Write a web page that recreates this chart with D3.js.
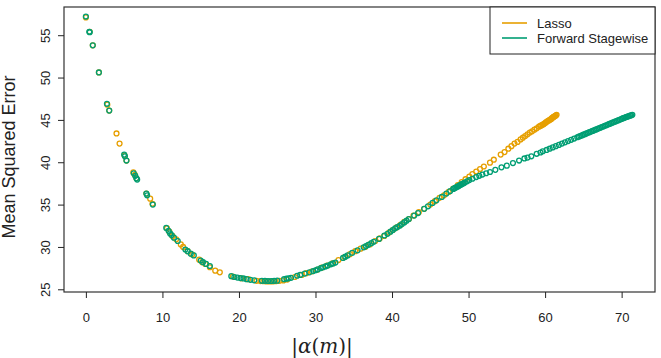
<!DOCTYPE html>
<html><head><meta charset="utf-8">
<script src="https://cdn.jsdelivr.net/npm/d3@7"></script>
<style>body{margin:0;background:#fff;} svg{display:block;}</style>
</head><body>
<svg id="c" width="661" height="358"></svg>
<script>
const seriesNames = ["Lasso", "Forward Stagewise"];
const xTicks = [0, 10, 20, 30, 40, 50, 60, 70];
const yTicks = [25, 30, 35, 40, 45, 50, 55];

const lassoX = [0,0.5,0.9,1.7,2.8,3.05,4.0,4.4,5.05,5.3,6.2,6.4,6.6,7.9,8.4,8.7,10.6,10.9,11.3,11.8,12.4,12.7,13.3,13.9,14.8,15.2,15.6,16.2,16.9,17.5,
19.2,20.3,21.2,22.3,22.8,23.2,23.6,24.0,24.4,24.8,25.3,25.8,26.3,27.3,28.2,28.8,29.5,30.2,30.8,31.5,32.2,33.0,33.8,34.5,35.2,35.9,36.5,37.1,37.8,38.4,39.0,39.6,40.1,40.6,41.1,41.6,42.2,42.8,43.5,44.2,45.0,45.6,46.2,46.8,47.4,48.0,48.6,49.1,49.6,50.1,50.5,51.0,51.5,52.0,52.8,53.3,54.2,54.7,55.2,55.6,56.0,56.4,56.8,57.1,57.4,57.7,58.0,58.3,58.6,58.9,59.2,59.5,59.8,60.1,60.4,60.7,60.9,61.1,61.3,61.5,
59.35,59.65,59.95,60.25,60.55,60.8,61.0,61.2,61.4];
const lassoY = [57.1,55.4,53.8,50.6,46.8,46.1,43.4,42.2,40.8,40.2,38.8,38.5,38.1,36.3,35.7,35.1,32.2,31.8,31.3,30.9,30.3,30.0,29.5,29.1,28.5,28.2,28.0,27.6,27.2,27.0,
26.5,26.3,26.2,26.0,25.97,25.95,25.93,25.92,25.93,25.95,26.0,26.05,26.15,26.45,26.7,26.9,27.1,27.3,27.55,27.8,28.05,28.45,28.8,29.15,29.5,29.8,30.0,30.3,30.7,31.0,31.3,31.7,32.0,32.3,32.6,32.95,33.3,33.7,34.1,34.5,35.0,35.4,35.8,36.1,36.5,36.9,37.3,37.65,38.0,38.3,38.6,38.9,39.2,39.5,39.95,40.3,40.9,41.2,41.6,41.9,42.2,42.4,42.7,42.9,43.1,43.3,43.5,43.65,43.85,44.0,44.2,44.35,44.5,44.7,44.9,45.05,45.2,45.35,45.45,45.6,
44.28,44.43,44.6,44.8,44.97,45.12,45.28,45.4,45.52];

const fsX = [0,0.45,0.5,0.9,1.7,2.75,3.05,5.0,5.1,5.3,6.25,6.45,6.6,6.7,7.9,8.0,8.75,10.5,10.8,11.0,11.2,11.5,12.0,13.0,13.3,13.7,14.1,15.0,15.3,15.7,16.2,
19.0,19.4,19.8,20.2,20.6,21.0,21.5,22.0,23.0,23.4,23.8,24.2,24.6,25.0,25.9,26.2,26.5,26.8,27.6,28.0,28.6,29.2,29.7,30.0,30.3,30.7,31.0,31.3,31.6,32.0,32.3,32.6,33.6,33.9,34.2,34.8,35.5,36.3,36.6,36.9,37.3,37.6,38.3,39.0,39.4,39.8,40.1,40.4,40.7,41.0,41.3,41.6,41.9,42.2,42.9,43.4,44.2,44.7,45.3,45.8,46.5,47.1,47.6,48.0,48.3,48.6,48.9,49.2,49.5,49.8,50.1,50.5,51.0,51.4,51.8,52.3,52.8,53.5,54.3,55.0,55.8,56.6,57.3,57.7,58.2,58.9,59.4,59.7,60.2,60.6,61.0,61.4,61.8,62.2,62.6,63.0,63.4,63.8,64.2,64.6,65.0,65.4,65.8,66.2,66.6,67.0,67.4,67.8,68.2,68.6,69.0,69.4,69.8,70.2,70.5,70.8,71.1,71.4,
64.4,64.8,65.2,65.6,66.0,66.4,66.8,67.2,67.6,68.0,68.4,68.8,69.2,69.6,70.0,70.35,70.65,70.95,71.25,48.15,48.45,48.75,49.05,49.35];
const fsY = [57.2,55.4,55.35,53.8,50.6,46.9,46.1,40.9,40.7,40.2,38.7,38.4,38.1,37.95,36.3,36.1,35.0,32.25,31.9,31.6,31.4,31.1,30.7,29.7,29.5,29.2,29.0,28.4,28.2,28.0,27.75,
26.55,26.45,26.38,26.33,26.28,26.2,26.12,26.06,26.0,26.0,25.98,25.98,26.0,26.02,26.2,26.25,26.3,26.35,26.6,26.7,26.85,27.0,27.15,27.25,27.35,27.5,27.6,27.7,27.8,27.95,28.05,28.15,28.7,28.85,29.0,29.3,29.6,29.95,30.1,30.25,30.45,30.6,30.95,31.35,31.55,31.8,32.0,32.2,32.35,32.5,32.7,32.9,33.1,33.3,33.7,34.0,34.5,34.8,35.2,35.5,35.9,36.3,36.6,36.85,37.0,37.15,37.3,37.45,37.6,37.75,37.9,38.05,38.25,38.4,38.55,38.7,38.85,39.1,39.4,39.6,39.9,40.2,40.45,40.55,40.7,41.0,41.15,41.3,41.45,41.6,41.75,41.9,42.05,42.2,42.35,42.5,42.65,42.8,42.95,43.1,43.25,43.4,43.55,43.7,43.85,44.0,44.15,44.3,44.45,44.6,44.75,44.9,45.05,45.2,45.3,45.4,45.5,45.6,
43.02,43.17,43.32,43.47,43.62,43.77,43.92,44.07,44.22,44.37,44.52,44.67,44.82,44.97,45.12,45.25,45.35,45.45,45.55,36.92,37.08,37.22,37.38,37.52];

const colors = ["#E69F00", "#009E73"];

const svg = d3.select("#c");
const L = 64, R = 655, T = 7, B = 292;
const x = d3.scaleLinear().domain([-2.86, 74.36]).range([L, R]);
const y = d3.scaleLinear().domain([24.68, 58.33]).range([B, T]);
const font = "'Liberation Sans', Arial, Helvetica, sans-serif";

const series = [
  {name: seriesNames[0], xs: lassoX, ys: lassoY, color: colors[0]},
  {name: seriesNames[1], xs: fsX, ys: fsY, color: colors[1]}
];
series.forEach(s => {
  svg.append("g").selectAll("circle").data(d3.range(s.xs.length)).join("circle")
    .attr("cx", i => x(s.xs[i])).attr("cy", i => y(s.ys[i])).attr("r", 2.45)
    .attr("fill", "none").attr("stroke", s.color).attr("stroke-width", 1.3);
});

svg.append("rect").attr("x", L).attr("y", T).attr("width", R - L).attr("height", B - T)
  .attr("fill", "none").attr("stroke", "#333").attr("stroke-width", 1.2);

const gx = svg.append("g").attr("transform", `translate(0,${B})`)
  .call(d3.axisBottom(x).tickValues(xTicks).tickSize(6).tickPadding(15).tickFormat(d3.format("d")));
gx.select(".domain").remove();
gx.selectAll("line").attr("stroke", "#222");
gx.selectAll("text").attr("font-family", font).attr("font-size", 13).attr("fill", "#222");

const gy = svg.append("g").attr("transform", `translate(${L},0)`)
  .call(d3.axisLeft(y).tickValues(yTicks).tickSize(6).tickFormat(d3.format("d")));
gy.select(".domain").remove();
gy.selectAll("line").attr("stroke", "#222");
gy.selectAll("text").attr("font-family", font).attr("font-size", 13).attr("fill", "#222")
  .attr("x", null).attr("text-anchor", "middle")
  .attr("transform", "translate(-19,0) rotate(-90)").attr("y", 0).attr("dy", "0.35em");

svg.append("text").attr("transform", "translate(15,157) rotate(-90)")
  .attr("text-anchor", "middle").attr("font-family", font).attr("font-size", 18).attr("fill", "#222")
  .text("Mean Squared Error");

const xt = svg.append("text").attr("x", 322).attr("y", 353).attr("text-anchor", "middle")
  .attr("font-family", "'DejaVu Serif', 'Liberation Serif', serif").attr("font-size", 20).attr("fill", "#222");
xt.append("tspan").text("|");
xt.append("tspan").attr("font-style", "italic").text("α");
xt.append("tspan").text("(");
xt.append("tspan").attr("font-style", "italic").text("m");
xt.append("tspan").text(")|");

const lg = svg.append("g");
lg.append("rect").attr("x", 490).attr("y", T).attr("width", R - 490).attr("height", 47)
  .attr("fill", "#fff").attr("stroke", "#222").attr("stroke-width", 1);
series.forEach((s, i) => {
  const yy = 23 + i * 15;
  lg.append("line").attr("x1", 502).attr("x2", 527).attr("y1", yy).attr("y2", yy)
    .attr("stroke", s.color).attr("stroke-width", 1.6);
  lg.append("text").attr("x", 537).attr("y", yy).attr("dy", "0.35em")
    .attr("font-family", font).attr("font-size", 13).attr("fill", "#222").text(s.name);
});
</script>
</body></html>
